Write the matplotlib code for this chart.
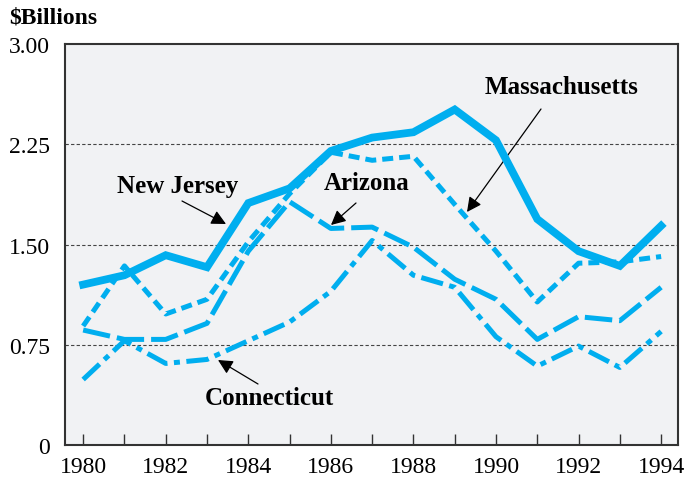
import numpy as np
import matplotlib
matplotlib.use('Agg')
import matplotlib.pyplot as plt

plt.rcParams['font.family'] = ['Liberation Serif', 'DejaVu Serif']

years = list(range(1980, 1995))
new_jersey = [1.20, 1.27, 1.42, 1.33, 1.81, 1.92, 2.20, 2.30, 2.34, 2.51, 2.28, 1.69, 1.45, 1.34, 1.64]
massachusetts = [0.89, 1.34, 0.98, 1.09, 1.52, 1.88, 2.19, 2.13, 2.16, 1.80, 1.45, 1.07, 1.36, 1.37, 1.41]
arizona = [0.86, 0.79, 0.79, 0.91, 1.45, 1.82, 1.62, 1.63, 1.48, 1.24, 1.09, 0.79, 0.96, 0.93, 1.18]
connecticut = [0.49, 0.78, 0.61, 0.64, 0.78, 0.92, 1.15, 1.53, 1.27, 1.18, 0.81, 0.59, 0.74, 0.58, 0.85]

ytick_vals = [0, 0.75, 1.50, 2.25, 3.00]
ytick_labels = ['0', '0.75', '1.50', '2.25', '3.00']
xtick_labels = [str(y) if y % 2 == 0 else '' for y in years]

blue = '#00aeef'

fig = plt.figure(figsize=(6.87, 4.81), dpi=100)
ax = fig.add_axes([0.0946, 0.0728, 0.8924, 0.8336])
ax.set_facecolor('#f1f2f4')

for g in [0.75, 1.50, 2.25]:
    ax.axhline(g, color='#444444', lw=0.8, ls=(0, (3, 2)), zorder=1)

ax.plot(years, massachusetts, color=blue, lw=3.6, dashes=(2.2, 1.2), zorder=3)
ax.plot(years, arizona, color=blue, lw=3.6, dashes=(5.5, 1.4), zorder=3)
ax.plot(years, connecticut, color=blue, lw=3.6, dashes=(4.5, 1.3, 1.2, 1.3), zorder=3)
ax.plot(years, new_jersey, color=blue, lw=5.6, solid_joinstyle='miter', zorder=4)

ax.set_xlim(1979.56, 1994.41)
ax.set_ylim(0, 3.0)
ax.set_xticks(years)
ax.set_xticklabels(xtick_labels, fontsize=17)
ax.set_yticks(ytick_vals)
ax.set_yticklabels(ytick_labels, fontsize=17)
ax.tick_params(axis='x', direction='in', length=8, width=1, color='#333333', pad=8)
ax.tick_params(axis='y', length=0, pad=11)
for s in ax.spines.values():
    s.set_color('#333333')
    s.set_linewidth(1.5)

fig.text(0.014, 0.962, '$Billions', fontsize=17, fontweight='bold', ha='left', va='center')

arrow = dict(arrowstyle='-|>', color='black', lw=0.9, mutation_scale=22, shrinkA=0, shrinkB=0)
H = 481
labels = [
    ('New Jersey', (178, H - 186), (182, H - 202), (226, H - 225)),
    ('Arizona', (367, H - 184), (356, H - 204), (331, H - 226)),
    ('Massachusetts', (562, H - 88), (541, H - 110), (467, H - 213)),
    ('Connecticut', (269, H - 399), (258, H - 385), (218, H - 361)),
]
for name, txt, start, tip in labels:
    fig.text(txt[0] / 687, txt[1] / H, name, fontsize=18, fontweight='bold', ha='center', va='center')
    ax.annotate('', xy=tip, xytext=start, arrowprops=arrow,
                xycoords='figure pixels', textcoords='figure pixels')

fig.savefig('out.png', dpi=100)
